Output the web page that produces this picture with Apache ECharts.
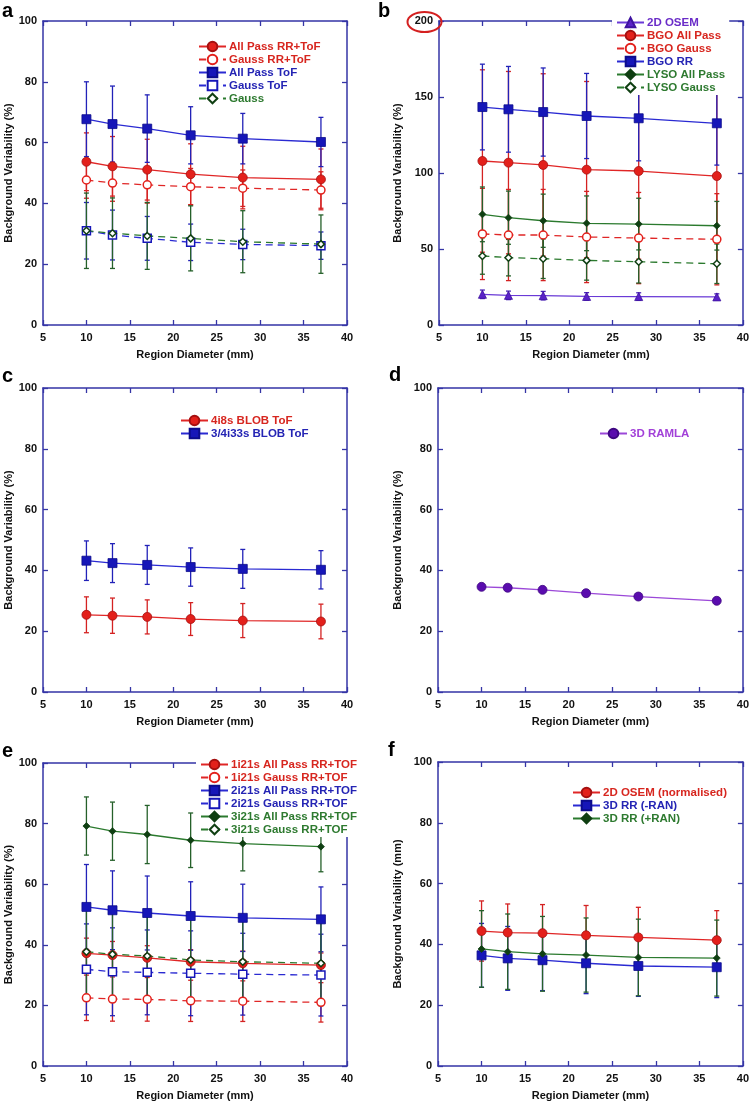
<!DOCTYPE html>
<html><head><meta charset="utf-8">
<script src="https://cdn.jsdelivr.net/npm/echarts@6/dist/echarts.min.js"></script>
<style>html,body{margin:0;padding:0;background:#fff}#c{width:752px;height:1105px}</style>
</head><body><div id="c"></div>
<script>
// ---------- DATA ----------
const diameters = [10, 13, 17, 22, 28, 37];

// panel a
const a_allPassRRToF = [53.7, 52.2, 51.1, 49.6, 48.5, 47.9];
const a_allPassRRToF_err = [9.5, 9.8, 10, 10, 10.3, 10];
const a_gaussRRToF = [47.7, 46.7, 46.1, 45.5, 45.0, 44.4];
const a_gaussRRToF_err = [6, 6, 6, 6, 6, 6];
const a_allPassToF = [67.7, 66.1, 64.6, 62.4, 61.3, 60.2];
const a_allPassToF_err = [12.3, 12.5, 11.1, 9.4, 8.3, 8.1];
const a_gaussToF = [31.0, 29.6, 28.5, 27.2, 26.5, 26.1];
const a_gaussToF_err = [9.3, 8.2, 7.2, 6.0, 5.0, 4.5];
const a_gauss = [31.0, 30.2, 29.3, 28.5, 27.4, 26.6];
const a_gauss_err = [12.4, 11.6, 11.0, 10.7, 10.2, 9.6];

// panel b
const b_osem2D = [20.2, 19.5, 19.3, 18.8, 18.7, 18.5];
const b_osem2D_err = [2.8, 2.8, 2.8, 2.5, 2.5, 2.0];
const b_bgoAllPass = [107.9, 106.8, 105.3, 102.2, 101.3, 98.0];
const b_bgoAllPass_err = [60, 60, 60, 58, 58, 58];
const b_bgoGauss = [59.9, 59.2, 59.2, 57.9, 57.2, 56.4];
const b_bgoGauss_err = [30, 30, 30, 30, 30, 30];
const b_bgoRR = [143.4, 141.9, 140.1, 137.5, 136.0, 132.7];
const b_bgoRR_err = [28.2, 28.2, 29, 28, 28, 27.5];
const b_lysoAllPass = [72.8, 70.6, 68.6, 66.9, 66.4, 65.3];
const b_lysoAllPass_err = [18, 17.5, 17.5, 18, 17, 16];
const b_lysoGauss = [45.4, 44.3, 43.6, 42.5, 41.6, 40.3];
const b_lysoGauss_err = [12, 12, 13, 13, 14, 13];

// panel c
const c_blob4i8s = [25.4, 25.1, 24.7, 24.0, 23.5, 23.2];
const c_blob4i8s_err = [5.9, 5.8, 5.6, 5.4, 5.6, 5.7];
const c_blob34i33s = [43.2, 42.4, 41.8, 41.1, 40.5, 40.2];
const c_blob34i33s_err = [6.5, 6.4, 6.4, 6.3, 6.4, 6.3];

// panel d
const d_ramla3D = [34.6, 34.3, 33.6, 32.5, 31.4, 30.0];

// panel e
const e_1i21sAllPass = [37.2, 36.6, 35.7, 34.4, 33.9, 33.3];
const e_1i21sAllPass_err = [5, 4.5, 4, 4, 4, 4];
const e_1i21sGauss = [22.5, 22.1, 22.0, 21.5, 21.4, 21.0];
const e_1i21sGauss_err = [7.5, 7.3, 7.2, 6.8, 6.7, 6.5];
const e_2i21sAllPass = [52.5, 51.4, 50.5, 49.5, 48.9, 48.4];
const e_2i21sAllPass_err = [14, 13, 12.2, 11.3, 11.1, 10.7];
const e_2i21sGauss = [31.9, 31.1, 30.9, 30.6, 30.3, 30.0];
const e_2i21sGauss_err = [15, 14.5, 14, 14, 13.5, 13.5];
const e_3i21sAllPass = [79.2, 77.5, 76.4, 74.5, 73.4, 72.4];
const e_3i21sAllPass_err = [9.6, 9.6, 9.6, 9.0, 9.0, 8.3];
const e_3i21sGauss = [37.7, 36.9, 36.3, 35.0, 34.4, 33.9];
const e_3i21sGauss_err = [15, 15, 14.5, 14.5, 14, 14];

// panel f
const f_osem2DNorm = [44.4, 43.9, 43.7, 43.0, 42.3, 41.4];
const f_osem2DNorm_err = [9.9, 9.4, 9.4, 9.8, 9.9, 9.7];
const f_rrMinusRan = [36.4, 35.4, 34.8, 33.8, 32.9, 32.5];
const f_rrMinusRan_err = [10.5, 10.5, 10, 10, 10, 10];
const f_rrPlusRan = [38.5, 37.6, 36.9, 36.5, 35.7, 35.5];
const f_rrPlusRan_err = [12.6, 12.4, 12.3, 12.2, 12.6, 12.5];

// ---------- STYLE ----------
const FONT = 'Liberation Sans, Arial, sans-serif';
const FRAME = '#3535a6';
const RED = {fill:'#e3201b', border:'#a51010', line:'#e02626', bar:'#d42222', text:'#d7261f'};
const BLUE = {fill:'#1616b8', border:'#0c0c8c', line:'#2a2ad2', bar:'#2222b8', text:'#2424b4'};
const GREEN = {fill:'#0f3f12', border:'#0f3f12', line:'#2b7a2e', bar:'#25602a', text:'#2e7a30'};
const PURPLE = {fill:'#5a22c8', border:'#3e12a0', line:'#6a3ad6', bar:'#4a22b8', text:'#6a2cc8'};
const VIOLET = {fill:'#5a0cae', border:'#3f0782', line:'#9b48d8', bar:'#9b48d8', text:'#a240d8'};

const grids = [
  {left:43, top:21, width:304, height:304},
  {left:439, top:21, width:304, height:304},
  {left:43, top:388, width:304, height:304},
  {left:438, top:388, width:305, height:304},
  {left:43, top:763, width:304, height:303},
  {left:438, top:762, width:305, height:304}
];
const yMax = [100, 200, 100, 100, 100, 100];
const yInt = [20, 50, 20, 20, 20, 20];
const yNames = ['Background Variability (%)','Background Variability (%)','Background Variability (%)','Background Variability (%)','Background Variability (%)','Background Variability (mm)'];
const yNameGap = [28, 36, 28, 35, 28, 35];

const xAxes = [], yAxes = [], series = [], legends = [];
const axisLineStyle = {color: FRAME, width: 1.5};
grids.forEach((g, i) => {
  xAxes.push({gridIndex:i, type:'value', min:5, max:40, interval:5, position:'bottom',
    axisLine:{show:true, onZero:false, lineStyle:axisLineStyle},
    axisTick:{show:true, inside:true, length:5, lineStyle:{color:FRAME, width:1.3}},
    axisLabel:{color:'#111', fontSize:11, fontWeight:'bold', fontFamily:FONT, margin:7},
    splitLine:{show:false},
    name:'Region Diameter (mm)', nameLocation:'middle', nameGap:24,
    nameTextStyle:{color:'#111', fontSize:11, fontWeight:'bold', fontFamily:FONT}});
  xAxes.push({gridIndex:i, type:'value', min:5, max:40, interval:5, position:'top',
    axisLine:{show:true, onZero:false, lineStyle:axisLineStyle},
    axisTick:{show:true, inside:true, length:5, lineStyle:{color:FRAME, width:1.3}},
    axisLabel:{show:false}, splitLine:{show:false}});
  yAxes.push({gridIndex:i, type:'value', min:0, max:yMax[i], interval:yInt[i], position:'left',
    axisLine:{show:true, onZero:false, lineStyle:axisLineStyle},
    axisTick:{show:true, inside:true, length:5, lineStyle:{color:FRAME, width:1.3}},
    axisLabel:{color:'#111', fontSize:11, fontWeight:'bold', fontFamily:FONT, margin:6},
    splitLine:{show:false},
    name:yNames[i], nameLocation:'middle', nameGap:yNameGap[i],
    nameTextStyle:{color:'#111', fontSize:11, fontWeight:'bold', fontFamily:FONT}});
  yAxes.push({gridIndex:i, type:'value', min:0, max:yMax[i], interval:yInt[i], position:'right',
    axisLine:{show:true, onZero:false, lineStyle:axisLineStyle},
    axisTick:{show:true, inside:true, length:5, lineStyle:{color:FRAME, width:1.3}},
    axisLabel:{show:false}, splitLine:{show:false}});
});

function errRender(color) {
  return function(params, api) {
    const x = api.value(0), lo = api.value(1), hi = api.value(2);
    const pt = api.coord([x, hi]), pb = api.coord([x, lo]);
    const w = 2.5;
    const st = {stroke: color, lineWidth: 1.3};
    return {type:'group', children:[
      {type:'line', shape:{x1:pt[0], y1:pt[1], x2:pb[0], y2:pb[1]}, style:st},
      {type:'line', shape:{x1:pt[0]-w, y1:pt[1], x2:pt[0]+w, y2:pt[1]}, style:st},
      {type:'line', shape:{x1:pb[0]-w, y1:pb[1], x2:pb[0]+w, y2:pb[1]}, style:st}
    ]};
  };
}

function add(gi, name, vals, err, pal, symbol, open, dashed, size) {
  if (err) {
    series.push({type:'custom', xAxisIndex:2*gi, yAxisIndex:2*gi, z:1, silent:true,
      renderItem: errRender(pal.bar),
      data: diameters.map((x, k) => [x, vals[k] - err[k], vals[k] + err[k]])});
  }
  series.push({type:'line', name:name, xAxisIndex:2*gi, yAxisIndex:2*gi, z:3,
    data: diameters.map((x, k) => [x, vals[k]]),
    symbol: symbol, symbolSize: size, showAllSymbol:true,
    itemStyle: open ? {color:'#fff', borderColor:pal.fill, borderWidth:1.5}
                    : {color:pal.fill, borderColor:pal.border, borderWidth:0.8},
    lineStyle: {color: pal.line, width: 1.3, type: dashed ? [7,5] : 'solid'}});
  return {name:name, textStyle:{color:pal.text}};
}

function legend(gi, items, left, top) {
  legends.push({data:items, orient:'vertical', left:left, top:top, itemWidth:27, itemHeight:12,
    itemGap:0, align:'left', selectedMode:false, backgroundColor:'#fff', padding:[1,4],
    textStyle:{fontSize:11.5, fontWeight:'bold', fontFamily:FONT, lineHeight:13, padding:[0,0,0,-2]}});
}

// panel a
legend(0, [
  add(0, 'All Pass RR+ToF', a_allPassRRToF, a_allPassRRToF_err, RED, 'circle', false, false, 9),
  add(0, 'Gauss RR+ToF', a_gaussRRToF, a_gaussRRToF_err, RED, 'circle', true, true, 8),
  add(0, 'All Pass ToF', a_allPassToF, a_allPassToF_err, BLUE, 'rect', false, false, 9),
  add(0, 'Gauss ToF', a_gaussToF, a_gaussToF_err, BLUE, 'rect', true, true, 8),
  add(0, 'Gauss', a_gauss, a_gauss_err, GREEN, 'diamond', true, true, 7)
], 194, 39);

// panel b
legend(1, [
  add(1, '2D OSEM', b_osem2D, b_osem2D_err, PURPLE, 'triangle', false, false, 8),
  add(1, 'BGO All Pass', b_bgoAllPass, b_bgoAllPass_err, RED, 'circle', false, false, 9),
  add(1, 'BGO Gauss', b_bgoGauss, b_bgoGauss_err, RED, 'circle', true, true, 8),
  add(1, 'BGO RR', b_bgoRR, b_bgoRR_err, BLUE, 'rect', false, false, 9),
  add(1, 'LYSO All Pass', b_lysoAllPass, b_lysoAllPass_err, GREEN, 'diamond', false, false, 7),
  add(1, 'LYSO Gauss', b_lysoGauss, b_lysoGauss_err, GREEN, 'diamond', true, true, 7)
], 612, 15);

// panel c
legend(2, [
  add(2, '4i8s BLOB ToF', c_blob4i8s, c_blob4i8s_err, RED, 'circle', false, false, 9),
  add(2, '3/4i33s BLOB ToF', c_blob34i33s, c_blob34i33s_err, BLUE, 'rect', false, false, 9)
], 176, 413);

// panel d
legend(3, [
  add(3, '3D RAMLA', d_ramla3D, null, VIOLET, 'circle', false, false, 9)
], 595, 426);

// panel e
legend(4, [
  add(4, '1i21s All Pass RR+TOF', e_1i21sAllPass, e_1i21sAllPass_err, RED, 'circle', false, false, 9),
  add(4, '1i21s Gauss RR+TOF', e_1i21sGauss, e_1i21sGauss_err, RED, 'circle', true, true, 8),
  add(4, '2i21s All Pass RR+TOF', e_2i21sAllPass, e_2i21sAllPass_err, BLUE, 'rect', false, false, 9),
  add(4, '2i21s Gauss RR+TOF', e_2i21sGauss, e_2i21sGauss_err, BLUE, 'rect', true, true, 8),
  add(4, '3i21s All Pass RR+TOF', e_3i21sAllPass, e_3i21sAllPass_err, GREEN, 'diamond', false, false, 7),
  add(4, '3i21s Gauss RR+TOF', e_3i21sGauss, e_3i21sGauss_err, GREEN, 'diamond', true, true, 7)
], 196, 757);

// panel f
legend(5, [
  add(5, '2D OSEM (normalised)', f_osem2DNorm, f_osem2DNorm_err, RED, 'circle', false, false, 9),
  add(5, '3D RR (-RAN)', f_rrMinusRan, f_rrMinusRan_err, BLUE, 'rect', false, false, 9),
  add(5, '3D RR (+RAN)', f_rrPlusRan, f_rrPlusRan_err, GREEN, 'diamond', false, false, 7)
], 568, 785);

const letters = [['a',2,1],['b',378,1],['c',2,366],['d',389,365],['e',2,741],['f',388,740]];
const graphics = letters.map(l => ({type:'text', left:l[1], top:l[2], z:10,
  style:{text:l[0], font:'bold 20px ' + FONT, fill:'#000'}}));
graphics.push({type:'ellipse', z:10, shape:{cx:424.5, cy:22, rx:17, ry:10},
  style:{fill:'none', stroke:'#d42020', lineWidth:2}});

const chart = echarts.init(document.getElementById('c'), null, {renderer:'canvas'});
chart.setOption({
  animation:false, backgroundColor:'#fff',
  grid: grids.map(g => Object.assign({containLabel:false}, g)),
  xAxis: xAxes, yAxis: yAxes, series: series, legend: legends, graphic: graphics
});
</script></body></html>
